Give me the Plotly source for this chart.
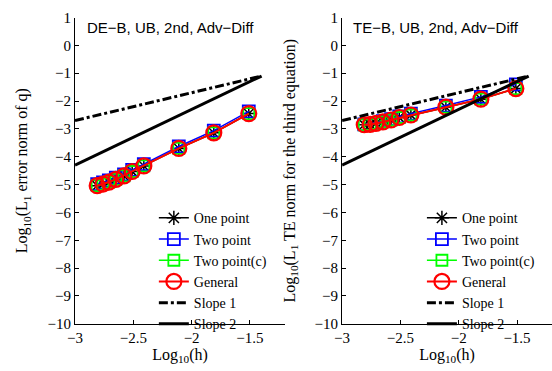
import plotly.graph_objects as go

# log10(h) for the refinement levels (shared by both panels)
log_h = [-1.51, -1.81, -2.11, -2.41, -2.51, -2.58, -2.65, -2.71, -2.76, -2.81]

# Left panel: log10 of the L1 error norm of q
de_one_point = [-2.45, -3.14, -3.70, -4.33, -4.53, -4.69, -4.81, -4.91, -4.98, -5.04]
de_two_point = [-2.37, -3.06, -3.63, -4.27, -4.47, -4.63, -4.75, -4.85, -4.92, -4.98]
de_two_point_c = [-2.45, -3.14, -3.70, -4.33, -4.53, -4.69, -4.81, -4.91, -4.98, -5.04]
de_general = [-2.45, -3.14, -3.70, -4.33, -4.53, -4.69, -4.81, -4.91, -4.98, -5.04]

# Right panel: log10 of the L1 TE norm for the third equation
te_one_point = [-1.55, -1.93, -2.22, -2.50, -2.59, -2.68, -2.75, -2.80, -2.84, -2.85]
te_two_point = [-1.40, -1.85, -2.16, -2.45, -2.55, -2.65, -2.72, -2.78, -2.82, -2.84]
te_two_point_c = [-1.55, -1.93, -2.22, -2.50, -2.59, -2.68, -2.75, -2.80, -2.84, -2.85]
te_general = [-1.55, -1.93, -2.22, -2.50, -2.59, -2.68, -2.75, -2.80, -2.84, -2.85]

# Reference slope lines
slope_x = [-3.0, -1.4]
slope1_y = [-2.7, -1.1]
slope2_y = [-4.3, -1.1]

panel_titles = ["DE\u2212B, UB, 2nd, Adv\u2212Diff", "TE\u2212B, UB, 2nd, Adv\u2212Diff"]
x_title = "Log<sub>10</sub>(h)"
y_titles = ["Log<sub>10</sub>(L<sub>1</sub> error norm of q)",
            "Log<sub>10</sub>(L<sub>1</sub> TE norm for the third equation)"]
x_ticks = [-3, -2.5, -2, -1.5]
y_ticks = list(range(-10, 2))

SERIF = "Liberation Serif, Times New Roman, serif"
SANS = "Liberation Sans, Arial, sans-serif"

fig = go.Figure()

panels = [
    ("x", "y", "legend", de_one_point, de_two_point, de_two_point_c, de_general),
    ("x2", "y2", "legend2", te_one_point, te_two_point, te_two_point_c, te_general),
]

for xa, ya, lg, one, two, twoc, gen in panels:
    fig.add_trace(go.Scatter(
        x=log_h, y=one, mode="lines+markers", name="One point",
        line=dict(color="black", width=1.5),
        marker=dict(symbol="asterisk-open", size=12, color="black",
                    line=dict(color="black", width=1.5)),
        xaxis=xa, yaxis=ya, legend=lg))
    fig.add_trace(go.Scatter(
        x=log_h, y=two, mode="lines+markers", name="Two point",
        line=dict(color="#0000ff", width=1.5),
        marker=dict(symbol="square-open", size=12, color="#0000ff",
                    line=dict(color="#0000ff", width=1.8)),
        xaxis=xa, yaxis=ya, legend=lg))
    fig.add_trace(go.Scatter(
        x=log_h, y=twoc, mode="lines+markers", name="Two point(c)",
        line=dict(color="#00ff00", width=1.5),
        marker=dict(symbol="square-open", size=11, color="#00ff00",
                    line=dict(color="#00ff00", width=1.8)),
        xaxis=xa, yaxis=ya, legend=lg))
    fig.add_trace(go.Scatter(
        x=log_h, y=gen, mode="lines+markers", name="General",
        line=dict(color="#ff0000", width=2),
        marker=dict(symbol="circle-open", size=15, color="#ff0000",
                    line=dict(color="#ff0000", width=2.2)),
        xaxis=xa, yaxis=ya, legend=lg))
    fig.add_trace(go.Scatter(
        x=slope_x, y=slope1_y, mode="lines", name="Slope 1",
        line=dict(color="black", width=3, dash="dashdot"),
        xaxis=xa, yaxis=ya, legend=lg))
    fig.add_trace(go.Scatter(
        x=slope_x, y=slope2_y, mode="lines", name="Slope 2",
        line=dict(color="black", width=3),
        xaxis=xa, yaxis=ya, legend=lg))

axis_common = dict(
    showgrid=False, zeroline=False, showline=True, linecolor="black", linewidth=1,
    ticks="inside", ticklen=4, tickcolor="black", mirror=False,
    tickfont=dict(family=SERIF, size=15, color="black"),
    title_font=dict(family=SERIF, size=16, color="black"),
)

x_domains = [[68 / 552, 281 / 552], [339 / 552, 1.0]]
y_domain = [41 / 371, 361 / 371]

layout = dict(
    width=552, height=371,
    margin=dict(l=0, r=0, t=0, b=0),
    paper_bgcolor="white", plot_bgcolor="white",
    showlegend=True,
)

for i, (xa, ya) in enumerate([("xaxis", "yaxis"), ("xaxis2", "yaxis2")]):
    suffix = "" if i == 0 else "2"
    layout[xa] = dict(axis_common, domain=x_domains[i], range=[-3, -1.2],
                      tickvals=x_ticks, anchor="y" + suffix,
                      title=dict(text=x_title, standoff=2))
    layout[ya] = dict(axis_common, domain=y_domain, range=[-10, 1],
                      tickvals=y_ticks, anchor="x" + suffix,
                      title=dict(text=y_titles[i], standoff=15))

legend_common = dict(
    bgcolor="rgba(0,0,0,0)", borderwidth=0,
    font=dict(family=SERIF, size=14, color="black"),
    xanchor="left", yanchor="top", tracegroupgap=0, itemwidth=30,
)
layout["legend"] = dict(legend_common, x=148 / 552, y=(371 - 203) / 371)
layout["legend2"] = dict(legend_common, x=420 / 552, y=(371 - 203) / 371)

fig.update_layout(**layout)

# In-axes panel titles
fig.add_annotation(text=panel_titles[0], x=165 / 552, y=(371 - 20) / 371,
                   xref="paper", yref="paper", xanchor="center", yanchor="middle",
                   showarrow=False, font=dict(family=SANS, size=15, color="black"))
fig.add_annotation(text=panel_titles[1], x=434 / 552, y=(371 - 20) / 371,
                   xref="paper", yref="paper", xanchor="center", yanchor="middle",
                   showarrow=False, font=dict(family=SANS, size=15, color="black"))

fig.write_html("out.html")
